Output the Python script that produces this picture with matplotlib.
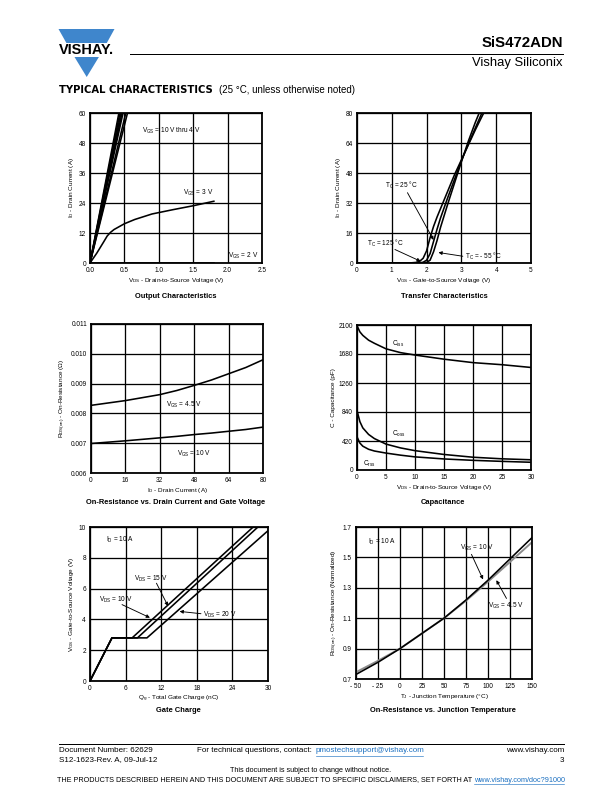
import matplotlib
matplotlib.use('Agg')
import matplotlib.pyplot as plt
from matplotlib.patches import Polygon
from matplotlib.lines import Line2D

plt.rcParams['font.family'] = ['Liberation Sans', 'DejaVu Sans']
plt.rcParams['mathtext.fontset'] = 'custom'
plt.rcParams['mathtext.rm'] = 'Liberation Sans'
plt.rcParams['mathtext.it'] = 'Liberation Sans:italic'

W, H = 612, 792

# --- Output characteristics ---
out_vgs_hi = ['10', '9', '8', '7', '6', '5', '4']
out_vds_at60 = [0.42, 0.435, 0.45, 0.465, 0.48, 0.52, 0.545]
out_vds3 = [0, 0.1, 0.2, 0.25, 0.3, 0.35, 0.5, 0.65, 0.9, 1.2, 1.5, 1.8]
out_id3 = [0, 4.0, 8.5, 10.8, 12.3, 13.4, 15.7, 17.4, 19.6, 21.3, 22.9, 24.7]
out_vds2 = [0, 1.8]
out_id2 = [0.15, 0.15]

# --- Transfer characteristics ---
tr_vgs = [0, 1.0, 1.5, 1.7, 1.8, 1.9, 2.0, 2.1, 2.2, 2.3, 2.4, 2.6, 2.8, 3.0, 3.2, 3.4, 3.6, 3.7]
tr_125 = [0, 0, 0, 0.3, 0.9, 2.5, 6.5, 13.5, 19.5, 24.5, 29, 38, 47, 55, 63, 71, 78.5, 82]
tr_25 = [0, 0, 0, 0, 0.1, 0.4, 1.5, 5, 11.5, 18, 24, 34.5, 44.5, 54.5, 63.5, 72, 80.5, 84]
tr_m55 = [0, 0, 0, 0, 0, 0, 0.3, 1.5, 6, 12, 19, 31, 42.5, 54, 65, 75, 84, 88]

# --- On-resistance vs drain current ---
ron_id = [0, 16, 32, 40, 48, 56, 64, 72, 80]
ron_45 = [0.00827, 0.00843, 0.00863, 0.00877, 0.00894, 0.00912, 0.00933, 0.00954, 0.0098]
ron_10 = [0.00699, 0.00708, 0.00718, 0.00723, 0.00729, 0.00734, 0.0074, 0.00746, 0.00754]

# --- Capacitance ---
cap_vds = [0, 0.5, 1, 2, 3, 5, 7.5, 10, 15, 20, 25, 30]
cap_ciss = [2090, 2000, 1950, 1880, 1835, 1755, 1700, 1665, 1605, 1555, 1525, 1485]
cap_coss = [860, 700, 610, 515, 455, 375, 320, 280, 225, 185, 162, 148]
cap_crss = [480, 390, 345, 300, 275, 245, 215, 190, 160, 140, 125, 112]

# --- Gate charge ---
gc_qg_10 = [0, 3.7, 7.1, 27.5]
gc_vgs_10 = [0, 2.8, 2.8, 10]
gc_qg_15 = [0, 3.7, 8.0, 28.3]
gc_vgs_15 = [0, 2.8, 2.8, 10]
gc_qg_20 = [0, 3.7, 9.6, 30]
gc_vgs_20 = [0, 2.8, 2.8, 9.76]

# --- On-resistance vs junction temperature ---
tj = [-50, -25, 0, 25, 50, 75, 100, 125, 150]
rn_10 = [0.73, 0.81, 0.9, 1.0, 1.1, 1.22, 1.35, 1.49, 1.63]
rn_45 = [0.745, 0.82, 0.9, 1.0, 1.1, 1.215, 1.34, 1.47, 1.60]

fig = plt.figure(figsize=(W / 72, H / 72), dpi=72)


def box(x0, y0, x1, y1):
    return [x0 / W, 1 - y1 / H, (x1 - x0) / W, (y1 - y0) / H]


def fx(x):
    return x / W


def fy(y):
    return 1 - y / H


def style(ax, xlim, xticks, ylim, yticks, xlabel, ylabel, xtl=None, ytl=None):
    ax.set_xlim(xlim)
    ax.set_ylim(ylim)
    ax.set_xticks(xticks)
    ax.set_yticks(yticks)
    if xtl:
        ax.set_xticklabels(xtl)
    if ytl:
        ax.set_yticklabels(ytl)
    ax.tick_params(length=0, labelsize=6.5, pad=4)
    ax.grid(True, color='k', lw=1.3)
    ax.set_axisbelow(True)
    for s in ax.spines.values():
        s.set_linewidth(1.8)
    ax.set_xlabel(xlabel, fontsize=6.4, labelpad=2)
    ax.set_ylabel(ylabel, fontsize=6.4, labelpad=3)


def arrow(ax, xy_from, xy_to):
    ax.annotate('', xy=xy_to, xytext=xy_from,
                arrowprops=dict(arrowstyle='-|>', color='k', lw=0.9, mutation_scale=7, shrinkA=0, shrinkB=0))


def title(x, y, s):
    fig.text(fx(x), fy(y), s, ha='center', va='center', fontsize=7.5, fontweight='bold')


tk = dict(fontsize=6.5, ha='left', va='center')
lw = 1.6

# chart 1
ax1 = fig.add_axes(box(90, 113, 262, 263))
for v in out_vds_at60:
    ax1.plot([0, v], [0, 60], color='k', lw=lw)
ax1.plot(out_vds3, out_id3, color='k', lw=lw)
ax1.plot(out_vds2, out_id2, color='k', lw=lw)
style(ax1, (0, 2.5), [0, 0.5, 1.0, 1.5, 2.0, 2.5], (0, 60), [0, 12, 24, 36, 48, 60],
      r'$\mathregular{V_{DS}}$ - Drain-to-Source Voltage (V)', r'$\mathregular{I_D}$ - Drain Current (A)',
      xtl=['0.0', '0.5', '1.0', '1.5', '2.0', '2.5'])
ax1.text(0.76, 53, r'$\mathregular{V_{GS}}$ = 10 V thru 4 V', **tk)
ax1.text(1.35, 28, r'$\mathregular{V_{GS}}$ = 3 V', **tk)
ax1.text(2.0, 3, r'$\mathregular{V_{GS}}$ = 2 V', **tk)
title(176, 296, 'Output Characteristics')

# chart 2
ax2 = fig.add_axes(box(357, 113, 531, 263))
ax2.plot(tr_vgs, tr_125, color='k', lw=lw)
ax2.plot(tr_vgs, tr_25, color='k', lw=lw)
ax2.plot(tr_vgs, tr_m55, color='k', lw=lw)
style(ax2, (0, 5), [0, 1, 2, 3, 4, 5], (0, 80), [0, 16, 32, 48, 64, 80],
      r'$\mathregular{V_{GS}}$ - Gate-to-Source Voltage (V)', r'$\mathregular{I_D}$ - Drain Current (A)')
ax2.text(0.81, 41.4, r'$\mathregular{T_C}$ = 25 °C', **tk)
arrow(ax2, (1.45, 37.5), (2.2, 12.3))
ax2.text(0.28, 10.2, r'$\mathregular{T_C}$ = 125 °C', **tk)
arrow(ax2, (1.09, 7.2), (1.83, 0.9))
ax2.text(3.11, 3.3, r'$\mathregular{T_C}$ = - 55 °C', **tk)
arrow(ax2, (3.04, 3.6), (2.34, 5.6))
title(444, 296, 'Transfer Characteristics')

# chart 3
ax3 = fig.add_axes(box(91, 324, 263, 473))
ax3.plot(ron_id, ron_45, color='k', lw=lw)
ax3.plot(ron_id, ron_10, color='k', lw=lw)
style(ax3, (0, 80), [0, 16, 32, 48, 64, 80], (0.006, 0.011),
      [0.006, 0.007, 0.008, 0.009, 0.010, 0.011],
      r'$\mathregular{I_D}$ - Drain Current (A)', r'$\mathregular{R_{DS(on)}}$ - On-Resistance (Ω)',
      ytl=['0.006', '0.007', '0.008', '0.009', '0.010', '0.011'])
ax3.text(35.1, 0.0083, r'$\mathregular{V_{GS}}$ = 4.5 V', **tk)
ax3.text(39.8, 0.00663, r'$\mathregular{V_{GS}}$ = 10 V', **tk)
title(176, 503, 'On-Resistance vs. Drain Current and Gate Voltage')

# chart 4
ax4 = fig.add_axes(box(357, 325, 531, 470))
ax4.plot(cap_vds, cap_ciss, color='k', lw=lw)
ax4.plot(cap_vds, cap_coss, color='k', lw=lw)
ax4.plot(cap_vds, cap_crss, color='k', lw=lw)
style(ax4, (0, 30), [0, 5, 10, 15, 20, 25, 30], (0, 2100), [0, 420, 840, 1260, 1680, 2100],
      r'$\mathregular{V_{DS}}$ - Drain-to-Source Voltage (V)', 'C - Capacitance (pF)')
ax4.text(6.0, 1830, r'$\mathregular{C_{iss}}$', **tk)
ax4.text(6.0, 517, r'$\mathregular{C_{oss}}$', **tk)
ax4.text(1.1, 83, r'$\mathregular{C_{rss}}$', **tk)
title(443, 503, 'Capacitance')

# chart 5
ax5 = fig.add_axes(box(90, 527, 268, 681))
ax5.plot(gc_qg_10, gc_vgs_10, color='k', lw=lw)
ax5.plot(gc_qg_15, gc_vgs_15, color='k', lw=lw)
ax5.plot(gc_qg_20, gc_vgs_20, color='k', lw=lw)
style(ax5, (0, 30), [0, 6, 12, 18, 24, 30], (0, 10), [0, 2, 4, 6, 8, 10],
      r'$\mathregular{Q_g}$ - Total Gate Charge (nC)', r'$\mathregular{V_{GS}}$ - Gate-to-Source Voltage (V)')
ax5.text(2.65, 9.13, r'$\mathregular{I_D}$ = 10 A', **tk)
ax5.text(7.35, 6.65, r'$\mathregular{V_{DS}}$ = 15 V', **tk)
arrow(ax5, (11.2, 6.35), (13.15, 4.87))
ax5.text(1.55, 5.24, r'$\mathregular{V_{DS}}$ = 10 V', **tk)
arrow(ax5, (5.4, 4.96), (10.1, 4.11))
ax5.text(19.05, 4.31, r'$\mathregular{V_{DS}}$ = 20 V', **tk)
arrow(ax5, (18.7, 4.37), (15.1, 4.52))
title(178, 711, 'Gate Charge')

# chart 6
ax6 = fig.add_axes(box(356, 527, 532, 679))
ax6.plot(tj, rn_45, color='#8c8c8c', lw=1.9)
ax6.plot(tj, rn_10, color='k', lw=lw)
style(ax6, (-50, 150), [-50, -25, 0, 25, 50, 75, 100, 125, 150], (0.7, 1.7),
      [0.7, 0.9, 1.1, 1.3, 1.5, 1.7],
      r'$\mathregular{T_J}$ - Junction Temperature (°C)', r'$\mathregular{R_{DS(on)}}$ - On-Resistance (Normalized)',
      xtl=['- 50', '- 25', '0', '25', '50', '75', '100', '125', '150'],
      ytl=['0.7', '0.9', '1.1', '1.3', '1.5', '1.7'])
ax6.text(-36, 1.6, r'$\mathregular{I_D}$ = 10 A', **tk)
ax6.text(68, 1.56, r'$\mathregular{V_{GS}}$ = 10 V', **tk)
arrow(ax6, (81.2, 1.52), (94.4, 1.355))
ax6.text(100, 1.18, r'$\mathregular{V_{GS}}$ = 4.5 V', **tk)
arrow(ax6, (121, 1.23), (109.5, 1.35))
title(443, 711, 'On-Resistance vs. Junction Temperature')

# header: logo
blue = '#3f86cc'
top = [(58.5, 29), (114.5, 29), (106.8, 43), (66.4, 43)]
bot = [(74.5, 57), (98.9, 57), (86.7, 77)]
for poly in (top, bot):
    fig.add_artist(Polygon([(fx(x), fy(y)) for x, y in poly], closed=True,
                           transform=fig.transFigure, color=blue, lw=0))
fig.text(fx(86.7), fy(50), 'VISHAY.', ha='center', va='center', fontsize=14.5, fontweight='bold')

fig.add_artist(Line2D([fx(130), fx(563)], [fy(53.5), fy(53.5)], color='k', lw=1.0, transform=fig.transFigure))
fig.text(fx(563), fy(43), 'SiS472ADN', ha='right', va='center', fontsize=15, fontweight='bold')
fig.text(fx(563), fy(63), 'Vishay Siliconix', ha='right', va='center', fontsize=13)
fig.text(fx(59), fy(90), 'TYPICAL CHARACTERISTICS', ha='left', va='center', fontsize=10,
         fontweight='bold', family=['DejaVu Sans'])
fig.text(fx(219), fy(90), '(25 °C, unless otherwise noted)', ha='left', va='center', fontsize=9.8)

# footer
link = '#1a6fc0'
fs = 8.0
fs2 = 7.2
fig.add_artist(Line2D([fx(59), fx(564)], [fy(744), fy(744)], color='k', lw=1.0, transform=fig.transFigure))
fig.text(fx(59), fy(751), 'Document Number: 62629', ha='left', va='center', fontsize=fs)
fig.text(fx(59), fy(760), 'S12-1623-Rev. A, 09-Jul-12', ha='left', va='center', fontsize=fs)
fig.text(fx(314), fy(751), 'For technical questions, contact: ', ha='right', va='center', fontsize=fs)
fig.text(fx(316), fy(751), 'pmostechsupport@vishay.com', ha='left', va='center', fontsize=fs, color=link)
fig.add_artist(Line2D([fx(316), fx(423)], [fy(755.5), fy(755.5)], color=link, lw=0.6, transform=fig.transFigure))
fig.text(fx(564), fy(751), 'www.vishay.com', ha='right', va='center', fontsize=fs)
fig.text(fx(564), fy(760), '3', ha='right', va='center', fontsize=fs)
fig.text(fx(311), fy(771), 'This document is subject to change without notice.', ha='center', va='center', fontsize=fs2)
fig.text(fx(472), fy(780), 'THE PRODUCTS DESCRIBED HEREIN AND THIS DOCUMENT ARE SUBJECT TO SPECIFIC DISCLAIMERS, SET FORTH AT',
         ha='right', va='center', fontsize=fs2)
fig.text(fx(474), fy(780), 'www.vishay.com/doc?91000', ha='left', va='center', fontsize=fs2, color=link)
fig.add_artist(Line2D([fx(474), fx(564)], [fy(784), fy(784)], color=link, lw=0.6, transform=fig.transFigure))

fig.savefig('out.png', dpi=72)
